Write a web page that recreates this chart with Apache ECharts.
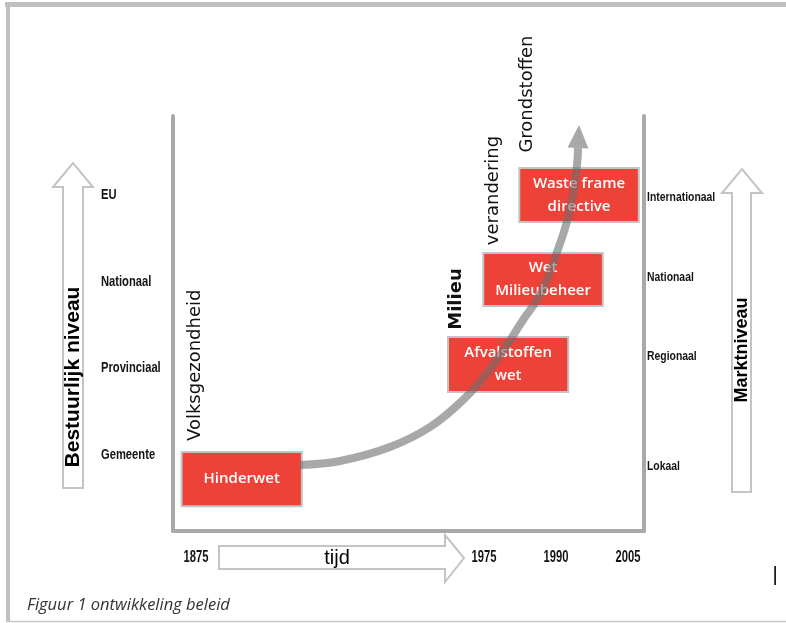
<!DOCTYPE html>
<html>
<head>
<meta charset="utf-8">
<script src="https://cdn.jsdelivr.net/npm/echarts@6/dist/echarts.min.js"></script>
<style>
html,body{margin:0;padding:0;background:#fff;}
#chart{width:786px;height:623px;}
</style>
</head>
<body>
<div id="chart"></div>
<script>
// ---- data ----
const yearLabels = ['1875', '1975', '1990', '2005'];
const yearX = [0, 4, 5, 6];
const yearY = -0.188;
const leftLevels = ['Gemeente', 'Provinciaal', 'Nationaal', 'EU'];
const leftLevelY = [1, 2, 3, 4];
const leftLevelX = -1.32;
const rightLevels = ['Internationaal', 'Nationaal', 'Regionaal', 'Lokaal'];
const rightLevelY = [3.975, 3.048, 2.142, 0.873];
const rightLevelX = 6.264;
const laws = ['Hinderwet', 'Afvalstoffen\nwet', 'Wet\nMilieubeheer', 'Waste frame\ndirective'];
const lawX0 = [-0.2, 3.5, 3.99, 4.49];
const lawX1 = [1.47, 5.17, 5.65, 6.15];
const lawY0 = [0.41, 1.727, 2.719, 3.688];
const lawY1 = [1.035, 2.362, 3.331, 4.311];
const themes = ['Volksgezondheid', 'Milieu', 'verandering', 'Grondstoffen'];
const themeX = [-0.014, 3.611, 4.125, 4.597];
const themeY = [2.035, 2.8, 4.052, 5.165];
const curveX = [1.444, 2.0, 2.694, 3.25, 3.708, 3.986, 4.264, 4.542, 4.736, 4.875, 5.0, 5.139, 5.236, 5.292, 5.306];
const curveY = [0.885, 0.931, 1.092, 1.323, 1.635, 1.888, 2.2, 2.558, 2.789, 3.019, 3.308, 3.654, 3.999, 4.346, 4.542];
const arrowTip = [5.319, 4.808];

// ---- styles ----
const CURVE = 'rgba(110,110,110,0.6)';
const FRAME = '#c0c0c0';
const NARROW_FONT = "bold 14px 'Liberation Sans', Arial, sans-serif";

const chart = echarts.init(document.getElementById('chart'), null, {renderer: 'canvas'});

const hiddenAxis = {
  axisLine: {show: false}, axisTick: {show: false}, splitLine: {show: false}, axisLabel: {show: false}
};

function textSeries(texts, xs, ys, font, align, scaleX) {
  return {
    type: 'custom', xAxisIndex: 0, yAxisIndex: 0, z: 2,
    data: texts.map((t, i) => [Array.isArray(xs) ? xs[i] : xs, Array.isArray(ys) ? ys[i] : ys]),
    renderItem: function (params, api) {
      const p = api.coord([api.value(0), api.value(1)]);
      return {
        type: 'text', x: p[0], y: p[1], scaleX: scaleX,
        style: {text: texts[params.dataIndex], fill: '#141414', font: font, align: align, verticalAlign: 'middle'}
      };
    }
  };
}

const option = {
  animation: false,
  backgroundColor: '#fff',
  grid: [
    {left: 196, right: 158, top: 21.67, bottom: 81.33},
    {left: 173, right: 142, top: 116, bottom: 92}
  ],
  xAxis: [
    Object.assign({gridIndex: 0, type: 'value', min: 0, max: 6, interval: 1}, hiddenAxis),
    Object.assign({gridIndex: 1, type: 'value', min: 0, max: 1}, hiddenAxis,
      {axisLine: {show: true, lineStyle: {color: '#a9a9a9', width: 4}}})
  ],
  yAxis: [
    Object.assign({gridIndex: 0, type: 'value', min: 0, max: 6, interval: 1}, hiddenAxis),
    Object.assign({gridIndex: 1, type: 'value', min: 0, max: 1, position: 'left'}, hiddenAxis,
      {axisLine: {show: true, lineStyle: {color: '#a9a9a9', width: 4}}}),
    Object.assign({gridIndex: 1, type: 'value', min: 0, max: 1, position: 'right'}, hiddenAxis,
      {axisLine: {show: true, lineStyle: {color: '#a9a9a9', width: 4}}})
  ],
  series: [
    {
      type: 'custom', xAxisIndex: 0, yAxisIndex: 0, z: 2,
      data: laws.map((n, i) => [lawX0[i], lawX1[i], lawY0[i], lawY1[i]]),
      renderItem: function (params, api) {
        const p0 = api.coord([api.value(0), api.value(3)]);
        const p1 = api.coord([api.value(1), api.value(2)]);
        return {
          type: 'group',
          children: [
            {type: 'rect', shape: {x: p0[0], y: p0[1], width: p1[0] - p0[0], height: p1[1] - p0[1]},
              style: {fill: '#ee4137', stroke: '#c4c4c4', lineWidth: 2}},
            {type: 'text', x: (p0[0] + p1[0]) / 2, y: (p0[1] + p1[1]) / 2,
              style: {text: laws[params.dataIndex], fill: '#fff', font: "600 15px 'Open Sans', sans-serif",
                align: 'center', verticalAlign: 'middle', lineHeight: 23}}
          ]
        };
      }
    },
    {
      type: 'custom', xAxisIndex: 0, yAxisIndex: 0, z: 2,
      data: themes.map((n, i) => [themeX[i], themeY[i]]),
      renderItem: function (params, api) {
        const p = api.coord([api.value(0), api.value(1)]);
        const i = params.dataIndex;
        return {
          type: 'text', x: p[0], y: p[1], rotation: Math.PI / 2,
          style: {text: themes[i], fill: '#111',
            font: (i === 1 ? 'bold ' : '') + "18px 'DejaVu Sans', sans-serif",
            align: 'center', verticalAlign: 'middle'}
        };
      }
    },
    textSeries(yearLabels, yearX, yearY, "bold 16px 'Liberation Sans', Arial, sans-serif", 'center', 0.7),
    textSeries(leftLevels, leftLevelX, leftLevelY, NARROW_FONT, 'left', 0.8),
    textSeries(rightLevels, rightLevelX, rightLevelY, "bold 13px 'Liberation Sans', Arial, sans-serif", 'left', 0.8),
    {
      type: 'line', xAxisIndex: 0, yAxisIndex: 0, z: 5,
      data: curveX.map((x, i) => [x, curveY[i]]),
      smooth: 0.4, symbol: 'none', clip: false,
      lineStyle: {color: CURVE, width: 8, cap: 'butt'}
    },
    {
      type: 'custom', xAxisIndex: 0, yAxisIndex: 0, z: 5,
      data: [[curveX[curveX.length - 1], curveY[curveY.length - 1], arrowTip[0], arrowTip[1]]],
      renderItem: function (params, api) {
        const b = api.coord([api.value(0), api.value(1)]);
        const t = api.coord([api.value(2), api.value(3)]);
        const dx = t[0] - b[0], dy = t[1] - b[1];
        const len = Math.sqrt(dx * dx + dy * dy);
        const nx = -dy / len, ny = dx / len, h = 10.5;
        return {
          type: 'polygon',
          shape: {points: [[b[0] + nx * h, b[1] + ny * h], [t[0], t[1]], [b[0] - nx * h, b[1] - ny * h]]},
          style: {fill: CURVE}
        };
      }
    }
  ],
  graphic: [
    // outer frame
    {type: 'rect', shape: {x: 5, y: 2, width: 781, height: 5}, style: {fill: FRAME}, silent: true},
    {type: 'rect', shape: {x: 6, y: 2, width: 4, height: 620}, style: {fill: FRAME}, silent: true},
    {type: 'line', shape: {x1: 6, y1: 621.5, x2: 786, y2: 621.5}, style: {stroke: '#c8c8c8', lineWidth: 1.5}, silent: true},
    // left hollow arrow
    {type: 'polygon', shape: {points: [[63, 488], [83, 488], [83, 187], [93, 187], [73, 163], [53, 187], [63, 187]]},
      style: {fill: '#fff', stroke: '#c4c4c4', lineWidth: 2}, silent: true},
    {type: 'text', x: 73, y: 377, rotation: Math.PI / 2,
      style: {text: 'Bestuurlijk niveau', font: "bold 21px 'Liberation Sans', Arial, sans-serif", fill: '#000',
        align: 'center', verticalAlign: 'middle'}},
    // right hollow arrow
    {type: 'polygon', shape: {points: [[732, 492], [751, 492], [751, 193], [762, 193], [742, 169], [722, 193], [732, 193]]},
      style: {fill: '#fff', stroke: '#c4c4c4', lineWidth: 2}, silent: true},
    {type: 'text', x: 742, y: 350, rotation: Math.PI / 2,
      style: {text: 'Marktniveau', font: "bold 18px 'Liberation Sans', Arial, sans-serif", fill: '#000',
        align: 'center', verticalAlign: 'middle'}},
    // time arrow
    {type: 'polygon', shape: {points: [[219, 546], [445, 546], [445, 535], [464, 558], [445, 582], [445, 569], [219, 569]]},
      style: {fill: '#fff', stroke: '#c4c4c4', lineWidth: 2}, silent: true},
    {type: 'text', x: 337, y: 558,
      style: {text: 'tijd', font: "20px 'Liberation Sans', Arial, sans-serif", fill: '#000',
        align: 'center', verticalAlign: 'middle'}},
    // caption
    {type: 'text', x: 27, y: 605,
      style: {text: 'Figuur 1 ontwikkeling beleid', font: "italic 16.5px 'Open Sans', sans-serif", fill: '#333',
        align: 'left', verticalAlign: 'middle'}},
    {type: 'text', x: 775, y: 575,
      style: {text: '|', font: "20px 'Liberation Sans', Arial, sans-serif", fill: '#000',
        align: 'center', verticalAlign: 'middle'}}
  ]
};
chart.setOption(option);
</script>
</body>
</html>
